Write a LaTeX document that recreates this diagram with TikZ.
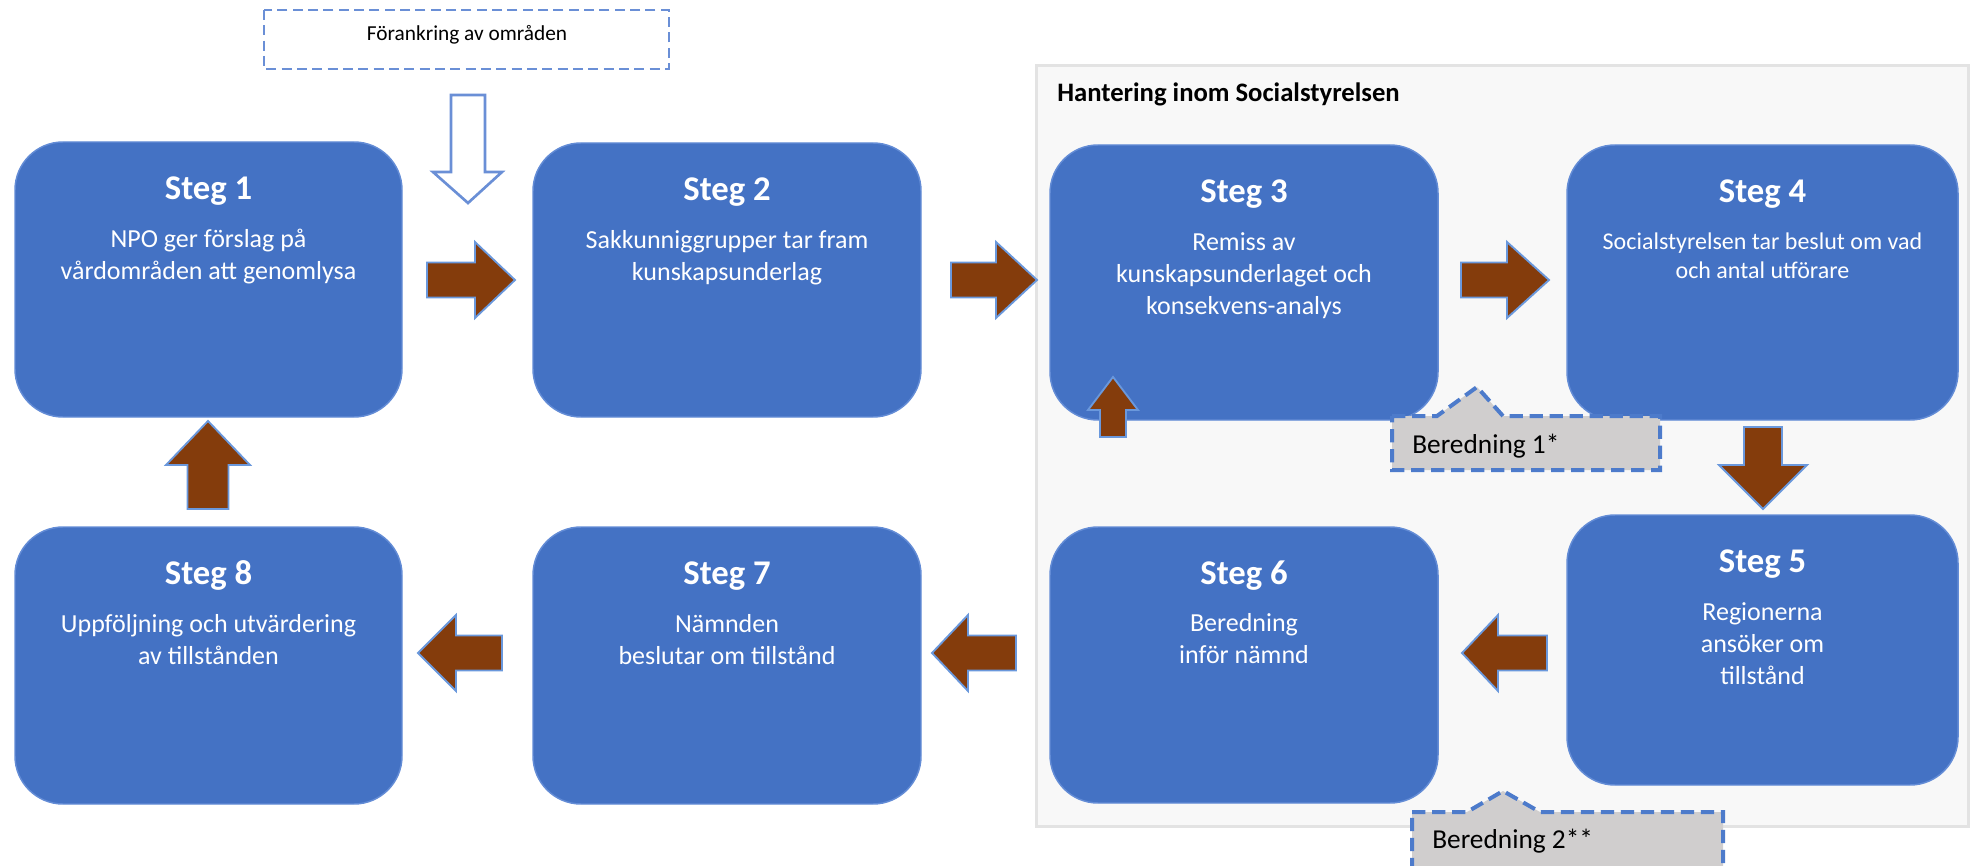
\documentclass[tikz,border=0pt]{standalone}
\usepackage{fontspec}
\setmainfont{Carlito}
\usetikzlibrary{calc}
\definecolor{boxblue}{HTML}{4472C4}
\definecolor{boxedge}{HTML}{638CD6}
\definecolor{arrowbrown}{HTML}{843C0C}
\definecolor{arrowedge}{HTML}{6A98DC}
\definecolor{panelfill}{HTML}{F8F8F8}
\definecolor{paneledge}{HTML}{E3E3E3}
\definecolor{calloutfill}{HTML}{D0CECE}
\definecolor{dashblue}{HTML}{4D7BCB}
\definecolor{lightdash}{HTML}{6A8FD6}
\tikzset{
  stepbox/.style={rectangle, rounded corners=36pt, fill=boxblue, draw=boxedge, line width=1.1pt, inner sep=0pt},
  steptitle/.style={font=\fontsize{26}{32}\selectfont\bfseries, text=white, inner sep=0pt, anchor=base},
  stepbody/.style={font=\fontsize{19.5}{24}\selectfont, text=white, align=center, inner sep=0pt, anchor=base},
  brownarrow/.style={fill=arrowbrown, draw=arrowedge, line width=1.4pt, line join=miter},
  hollowarrow/.style={fill=white, draw=lightdash, line width=2pt, line join=miter},
  calloutshape/.style={fill=calloutfill, draw=dashblue, line width=3pt, dash pattern=on 10pt off 5pt},
  callouttext/.style={font=\fontsize{20.5}{25}\selectfont, text=black, inner sep=0pt, anchor=base west},
  topbox/.style={fill=white, draw=lightdash, line width=1.5pt, dash pattern=on 7.5pt off 4pt},
  panelbox/.style={fill=panelfill, draw=paneledge, line width=2.25pt}
}
% name, x1, y1, x2, y2
\newcommand\makestep[5]{%
  \node[stepbox, minimum width={(#4-#2)*0.75pt}, minimum height={(#5-#3)*0.75pt}] (#1) at ({(#2+#4)/2},{(#3+#5)/2}) {};}
% tipx, tipy, rotation, length, head length, head width, shaft width
\newcommand\blockarrow[7]{%
  \draw[brownarrow, shift={(#1,#2)}, rotate=#3] (0,0) -- (-#5,{-#6/2}) -- (-#5,{-#7/2}) -- (-#4,{-#7/2}) -- (-#4,{#7/2}) -- (-#5,{#7/2}) -- (-#5,{#6/2}) -- cycle;}
\begin{document}
\begin{tikzpicture}[x=0.75pt,y=-0.75pt]
\useasboundingbox (0,0) rectangle (1970,866);
\begin{scope}
\clip (0,0) rectangle (1970,866);
% panel
\draw[panelbox] (1036,66) rectangle (1968,826);
\node[anchor=base west, font=\fontsize{20}{24}\selectfont\bfseries, inner sep=0pt] (hant) at (1057,102) {Hantering inom Socialstyrelsen};
% top dashed box
\draw[topbox] (264,10) rectangle (669,69);
\node[anchor=base, font=\fontsize{16}{19}\selectfont, inner sep=0pt] (fork) at (467,41) {Förankring av områden};
% hollow arrow
\draw[hollowarrow] (451,95) -- (485,95) -- (485,172) -- (502,172) -- (468,203) -- (433,172) -- (451,172) -- cycle;
% step boxes
\makestep{s1}{15}{142}{402}{417}
\makestep{s2}{533}{143}{921}{417}
\makestep{s3}{1050}{145}{1438}{420}
\makestep{s4}{1567}{145}{1958}{420}
\makestep{s5}{1567}{515}{1958}{785}
\makestep{s6}{1050}{527}{1438}{803}
\makestep{s7}{533}{527}{921}{804}
\makestep{s8}{15}{527}{402}{804}
% titles
\foreach \s/\t in {s1/Steg 1, s2/Steg 2, s3/Steg 3, s4/Steg 4, s5/Steg 5, s6/Steg 6, s7/Steg 7, s8/Steg 8}{
  \node[steptitle] (\s t) at ($(\s.north)+(0,58)$) {\t};
}
% bodies (anchor base = baseline of the last line)
\node[stepbody] (s1b) at ($(s1.north)+(0,138)$) {NPO ger förslag på\\vårdområden att genomlysa};
\node[stepbody] (s2b) at ($(s2.north)+(0,138)$) {Sakkunniggrupper tar fram\\kunskapsunderlag};
\node[stepbody] (s3b) at ($(s3.north)+(0,170)$) {Remiss av\\kunskapsunderlaget och\\konsekvens-analys};
\node[stepbody, font=\fontsize{18}{21.5}\selectfont] (s4b) at ($(s4.north)+(0,134)$) {Socialstyrelsen tar beslut om vad\\och antal utförare};
\node[stepbody] (s5b) at ($(s5.north)+(0,170)$) {Regionerna\\ansöker om\\tillstånd};
\node[stepbody] (s6b) at ($(s6.north)+(0,137)$) {Beredning\\inför nämnd};
\node[stepbody] (s7b) at ($(s7.north)+(0,138)$) {Nämnden\\beslutar om tillstånd};
\node[stepbody] (s8b) at ($(s8.north)+(0,138)$) {Uppföljning och utvärdering\\av tillstånden};
% brown block arrows
\blockarrow{515}{280}{0}{88}{40}{76}{35}
\blockarrow{1037}{280}{0}{86}{41}{76}{35}
\blockarrow{1549}{280}{0}{88}{42}{76}{35}
\blockarrow{1763}{509}{-90}{82}{44}{88}{38}
\blockarrow{1462}{653}{180}{85}{36}{76}{35}
\blockarrow{932}{653}{180}{84}{36}{76}{35}
\blockarrow{418}{653}{180}{84}{38}{76}{35}
\blockarrow{208}{421}{90}{88}{44}{84}{41}
\blockarrow{1113}{377}{90}{60}{33}{50}{26}
% callouts
\draw[calloutshape] (1392,416) -- (1437,416) -- (1477,387) -- (1503,416) -- (1660,416) -- (1660,470) -- (1392,470) -- cycle;
\node[callouttext] (ber1) at (1412,453) {Beredning 1*};
\draw[calloutshape] (1412,812) -- (1467,812) -- (1503,791) -- (1540,812) -- (1723,812) -- (1723,895) -- (1412,895) -- cycle;
\node[callouttext] (ber2) at (1432,848) {Beredning 2**};
\end{scope}
\end{tikzpicture}
\end{document}
